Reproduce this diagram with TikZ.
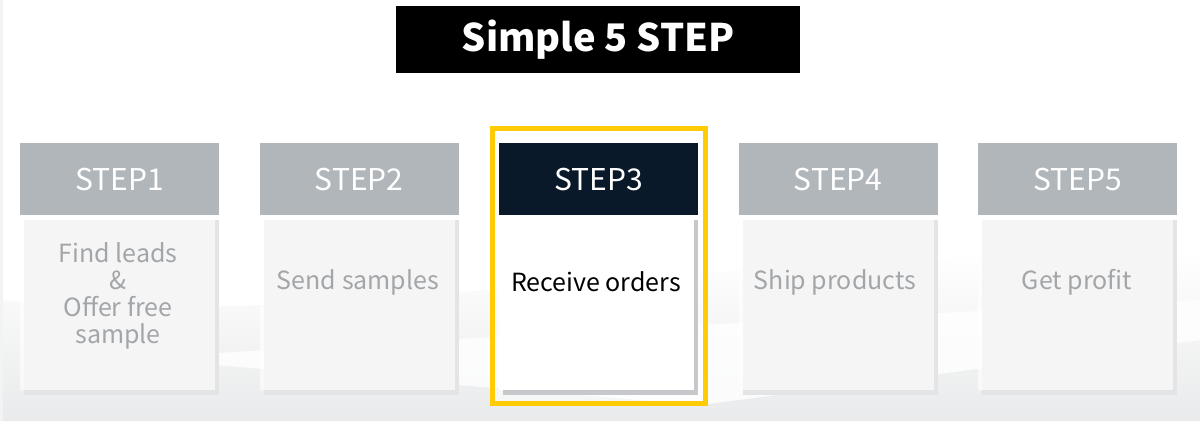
\documentclass[tikz,border=0pt]{standalone}
\usepackage{fontspec}
\setmainfont{Noto Sans CJK JP}
\usetikzlibrary{positioning}
\definecolor{hdrgray}{HTML}{B1B6BB}
\definecolor{navy}{HTML}{0A1929}
\definecolor{ylw}{HTML}{FFCB05}
\definecolor{bodytxt}{HTML}{A3A6A9}
\definecolor{shadowlt}{HTML}{E3E4E5}
\definecolor{shadowdk}{HTML}{C6C8CB}
\definecolor{bgg}{HTML}{E9EAEB}
\tikzset{
  hdr/.style={rectangle, inner sep=0pt, minimum width=199pt, minimum height=72pt, anchor=north west, fill=hdrgray, text=white, font=\fontsize{30}{32}\selectfont},
  bodybox/.style={rectangle, inner sep=0pt, minimum width=195pt, minimum height=175pt, anchor=north west, fill=white, fill opacity=0.65, text opacity=1},
  bodytext/.style={text=bodytxt, font=\fontsize{25}{27}\selectfont, align=center},
}
\begin{document}
\begin{tikzpicture}[x=1pt,y=-1pt]
\useasboundingbox (0,0) rectangle (1200,421);
% background
\fill[white] (0,0) rectangle (1200,421);
\shade[top color=white, bottom color=bgg] (0,300) .. controls (300,330) and (600,260) .. (1200,250) -- (1200,421) -- (0,421) -- cycle;
\fill[white, opacity=0.8] (130,358) -- (700,325) -- (1200,300) -- (1200,340) -- (700,405) -- cycle;
\fill[bgg!60] (0,0) rectangle (3,421);
% title
\node[fill=black, minimum width=404pt, minimum height=67pt, inner sep=0pt, anchor=north west, text=white, font=\bfseries\fontsize{38}{42}\selectfont] (title) at (396,6) {Simple 5 STEP};
% yellow frame
\draw[ylw, line width=5pt] (492.5,128.5) rectangle (705.5,403.5);
\fill[white, opacity=0.5] (495,131) rectangle (703,401);
% shadows
\foreach \i in {1,2,4,5} {
  \pgfmathsetmacro{\xx}{20+239.5*(\i-1)}
  \fill[shadowlt] (\xx+4,220) rectangle (\xx+199,395);
}
\fill[shadowdk] (503.0,220) rectangle (698,395);
% bodies
\node[bodybox] (b1) at (20,215) {};
\node[bodybox] (b2) at (259.5,215) {};
\node[bodybox, fill opacity=1] (b3) at (499,215) {};
\node[bodybox] (b4) at (738.5,215) {};
\node[bodybox] (b5) at (978,215) {};
% headers
\node[hdr] (h1) at (20,143) {STEP1};
\node[hdr] (h2) at (259.5,143) {STEP2};
\node[hdr, fill=navy] (h3) at (499,143) {STEP3};
\node[hdr] (h4) at (738.5,143) {STEP4};
\node[hdr] (h5) at (978,143) {STEP5};
% texts
\node[bodytext] (t1) at (118,296) {Find leads\\\&\\Offer free\\sample};
\node[bodytext] (t2) at (358,282) {Send samples};
\node[bodytext, text=black] (t3) at (596,282) {Receive orders};
\node[bodytext] (t4) at (835,282) {Ship products};
\node[bodytext] (t5) at (1077,282) {Get profit};
\end{tikzpicture}
\end{document}
